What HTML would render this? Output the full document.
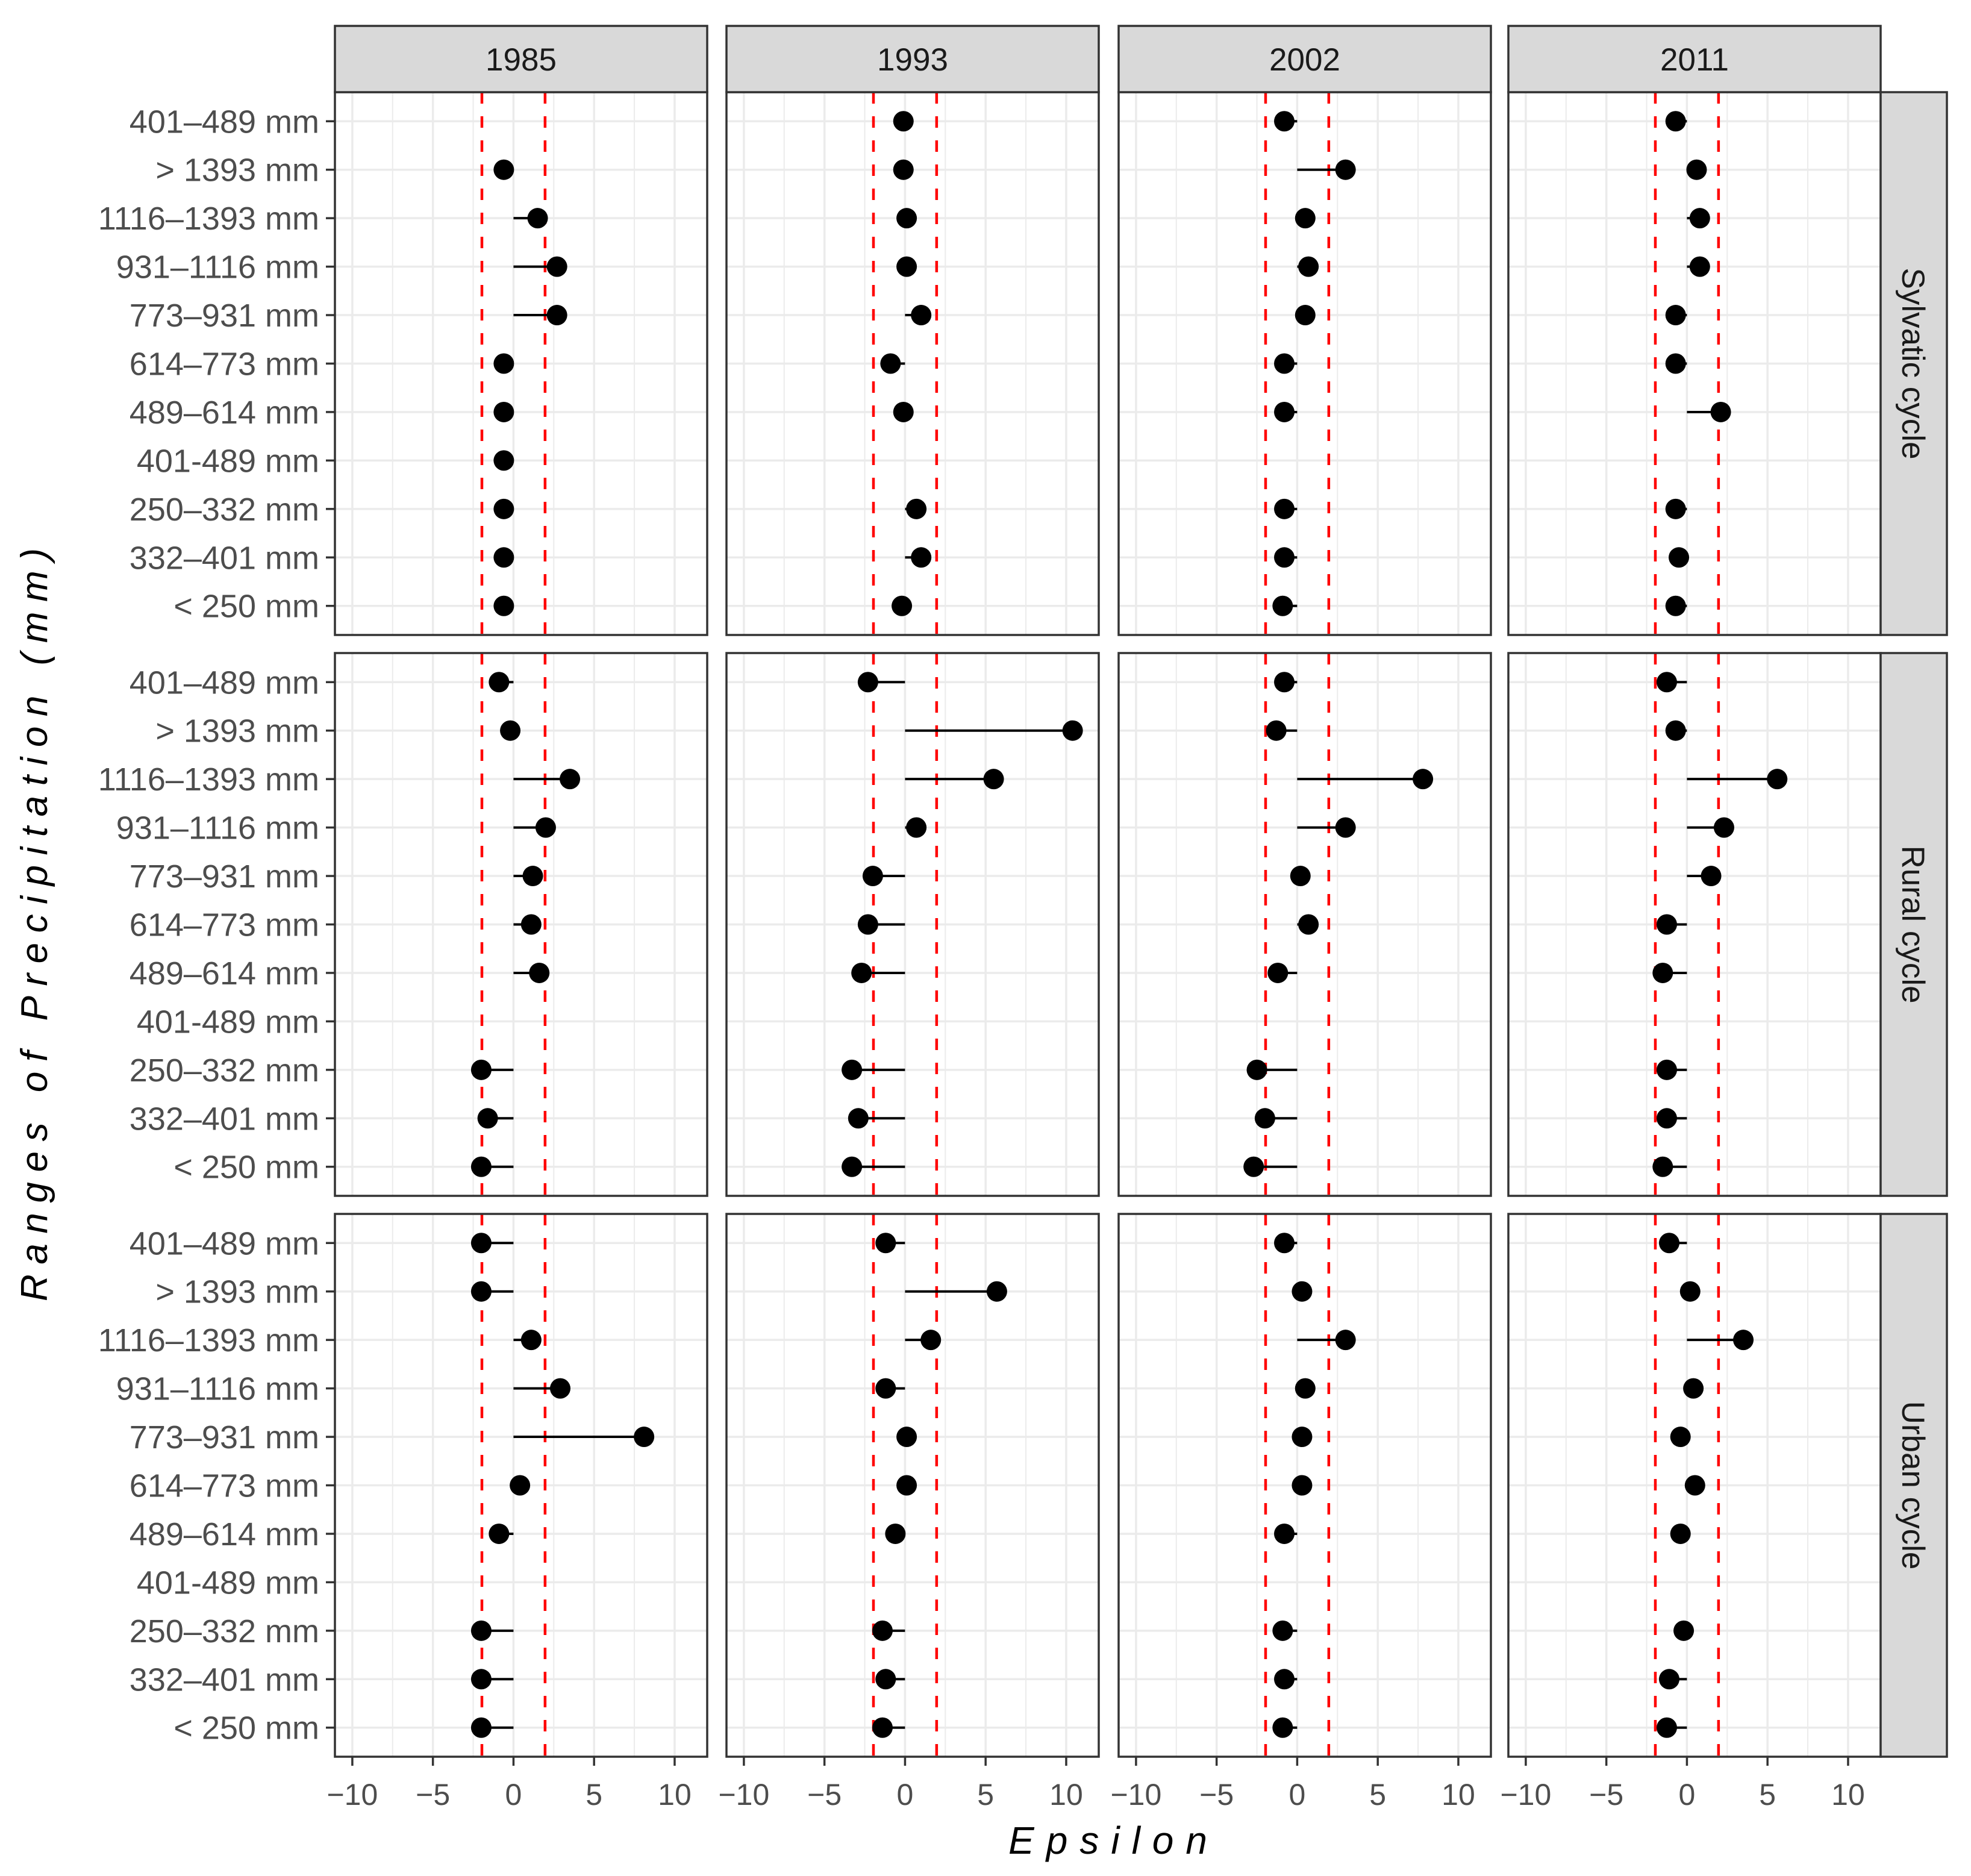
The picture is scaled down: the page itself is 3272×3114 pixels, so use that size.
<!DOCTYPE html>
<html><head><meta charset="utf-8"><style>
html,body{margin:0;padding:0;background:#fff;}
svg{display:block;font-family:"Liberation Sans",Arial,sans-serif;}
</style></head><body>
<svg id="chart" width="3272" height="3114" viewBox="0 0 3272 3114" xmlns="http://www.w3.org/2000/svg">
<rect width="3272" height="3114" fill="#fff"/>
<text transform="translate(78,1535) rotate(-90)" text-anchor="middle" font-size="62" font-style="italic" fill="#000" textLength="1250" lengthAdjust="spacing">Ranges of Precipitation (mm)</text>
<text x="1839" y="3077" text-anchor="middle" font-size="64" font-style="italic" fill="#000" textLength="330" lengthAdjust="spacing">Epsilon</text>
<g id="plots"></g>
</svg>
<script>
const categories = ["401–489 mm","> 1393 mm","1116–1393 mm","931–1116 mm","773–931 mm","614–773 mm","489–614 mm","401-489 mm","250–332 mm","332–401 mm","< 250 mm"];
const years = ["1985","1993","2002","2011"];
const cycles = ["Sylvatic cycle","Rural cycle","Urban cycle"];
const xTicks = [-10,-5,0,5,10];
const xTickLabels = ["−10","−5","0","5","10"];
const thresholds = [-1.96,1.96];
const sylvatic1985 = [null,-0.6,1.5,2.7,2.7,-0.6,-0.6,-0.6,-0.6,-0.6,-0.6];
const sylvatic1993 = [-0.1,-0.1,0.1,0.1,1.0,-0.9,-0.1,null,0.7,1.0,-0.2];
const sylvatic2002 = [-0.8,3.0,0.5,0.7,0.5,-0.8,-0.8,null,-0.8,-0.8,-0.9];
const sylvatic2011 = [-0.7,0.6,0.8,0.8,-0.7,-0.7,2.1,null,-0.7,-0.5,-0.7];
const rural1985 = [-0.9,-0.2,3.5,2.0,1.2,1.1,1.6,null,-2.0,-1.6,-2.0];
const rural1993 = [-2.3,10.4,5.5,0.7,-2.0,-2.3,-2.7,null,-3.3,-2.9,-3.3];
const rural2002 = [-0.8,-1.3,7.8,3.0,0.2,0.7,-1.2,null,-2.5,-2.0,-2.7];
const rural2011 = [-1.25,-0.7,5.6,2.3,1.5,-1.25,-1.5,null,-1.25,-1.25,-1.5];
const urban1985 = [-2.0,-2.0,1.1,2.9,8.1,0.4,-0.9,null,-2.0,-2.0,-2.0];
const urban1993 = [-1.2,5.7,1.6,-1.2,0.1,0.1,-0.6,null,-1.4,-1.2,-1.4];
const urban2002 = [-0.8,0.3,3.0,0.5,0.3,0.3,-0.8,null,-0.9,-0.8,-0.9];
const urban2011 = [-1.1,0.2,3.5,0.4,-0.4,0.5,-0.4,null,-0.2,-1.1,-1.25];
const seriesGrid = [
  [sylvatic1985,sylvatic1993,sylvatic2002,sylvatic2011],
  [rural1985,rural1993,rural2002,rural2011],
  [urban1985,urban1993,urban2002,urban2011]
];

const NS="http://www.w3.org/2000/svg";
const root=document.getElementById('plots');
function mk(tag,attrs,parent){const e=document.createElementNS(NS,tag);for(const k in attrs)e.setAttribute(k,attrs[k]);(parent||root).appendChild(e);return e;}

const colLeft=[556,1206,1857,2504], panelW=618;
const rowTop=[153,1084,2015], panelH=901;
const stripTop=43, stripH=110, stripRightW=110;
const xMin=-11.08, xMax=12.02;
function xScale(c,v){return colLeft[c]+(v-xMin)/(xMax-xMin)*panelW;}
const step=panelH/(categories.length-1+1.2);
function yScale(r,i){return rowTop[r]+(0.6+i)*step;}

for(let r=0;r<3;r++){
  for(let c=0;c<4;c++){
    const g=mk('g',{});
    
    
    const L=colLeft[c],T=rowTop[r];
    mk('rect',{x:L,y:T,width:panelW,height:panelH,fill:'#fff'},g);
    for(const v of [-7.5,-2.5,2.5,7.5]){
      const x=xScale(c,v);
      mk('line',{x1:x,x2:x,y1:T,y2:T+panelH,stroke:'#ebebeb','stroke-width':2},g);
    }
    for(const v of xTicks){
      const x=xScale(c,v);
      mk('line',{x1:x,x2:x,y1:T,y2:T+panelH,stroke:'#ebebeb','stroke-width':3.5},g);
    }
    categories.forEach((cat,i)=>{
      const y=yScale(r,i);
      mk('line',{x1:L,x2:L+panelW,y1:y,y2:y,stroke:'#ebebeb','stroke-width':3.5},g);
    });
    thresholds.forEach(t=>{
      const x=xScale(c,t);
      const ln=mk('line',{x1:x,x2:x,y1:T,y2:T+panelH,stroke:'#ff0000','stroke-width':4.5,'stroke-dasharray':'19 21'},g);
      
      
    });
    const vals=seriesGrid[r][c];
    vals.forEach((v,i)=>{
      if(v===null)return;
      const y=yScale(r,i);
      const seg=mk('line',{x1:xScale(c,0),x2:xScale(c,v),y1:y,y2:y,stroke:'#000','stroke-width':4},g);
      
      
      const pt=mk('circle',{cx:xScale(c,v),cy:y,r:17,fill:'#000'},g);
      
      
    });
    mk('rect',{x:L,y:T,width:panelW,height:panelH,fill:'none',stroke:'#333','stroke-width':3.5},g);
    if(c===0){
      categories.forEach((cat,i)=>{
        const y=yScale(r,i);
        mk('line',{x1:L-15,x2:L,y1:y,y2:y,stroke:'#333','stroke-width':3.5},g);
        const t=mk('text',{x:L-26,y:y+19,'text-anchor':'end','font-size':54,fill:'#4d4d4d'},g);
        t.textContent=cat;
        
        
      });
    }
    if(r===2){
      xTicks.forEach((v,k)=>{
        const x=xScale(c,v);
        mk('line',{x1:x,x2:x,y1:T+panelH,y2:T+panelH+15,stroke:'#333','stroke-width':3.5},g);
        const t=mk('text',{x:x,y:T+panelH+80,'text-anchor':'middle','font-size':50,fill:'#4d4d4d'},g);
        t.textContent=xTickLabels[k];
        
        
      });
    }
  }
}
years.forEach((yr,c)=>{
  const g=mk('g',{});
  
  
  mk('rect',{x:colLeft[c],y:stripTop,width:panelW,height:stripH,fill:'#d9d9d9',stroke:'#333','stroke-width':3.5},g);
  const t=mk('text',{x:colLeft[c]+panelW/2,y:stripTop+stripH/2+19,'text-anchor':'middle','font-size':53,fill:'#1a1a1a'},g);
  t.textContent=yr;
});
const sx=colLeft[3]+panelW;
cycles.forEach((cy,r)=>{
  const g=mk('g',{});
  
  
  mk('rect',{x:sx,y:rowTop[r],width:stripRightW,height:panelH,fill:'#d9d9d9',stroke:'#333','stroke-width':3.5},g);
  const cx=sx+stripRightW/2, cyy=rowTop[r]+panelH/2;
  const t=mk('text',{transform:`translate(${cx-19},${cyy}) rotate(90)`,'text-anchor':'middle','font-size':53,fill:'#1a1a1a'},g);
  t.textContent=cy;
});
</script>
</body></html>
